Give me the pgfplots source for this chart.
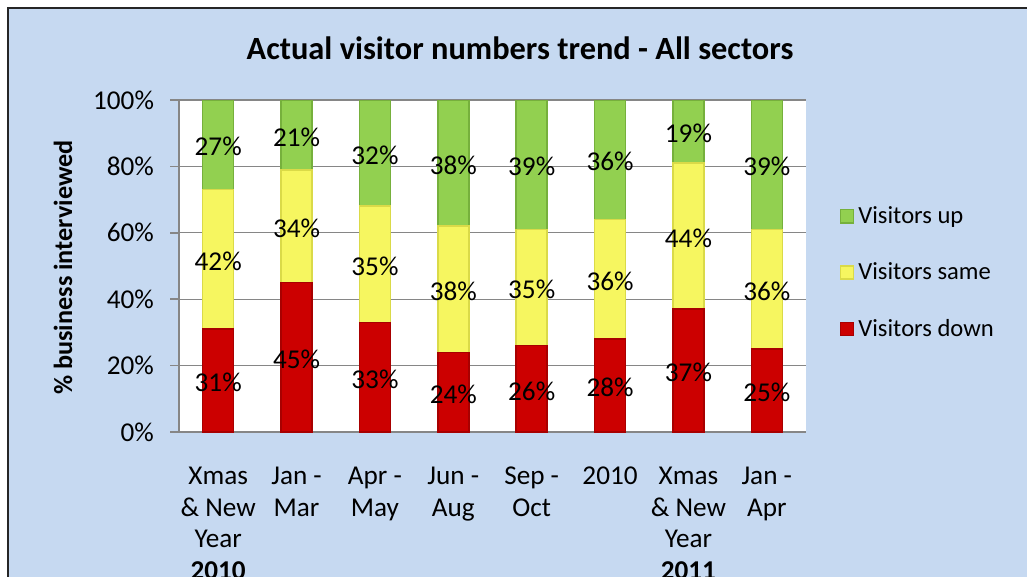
\documentclass[border=0pt]{standalone}
\usepackage{pgfplots}
\pgfplotsset{compat=1.18}
\usepackage{pgfplotstable}
\usepackage{fontspec}
\setmainfont{Carlito}
\definecolor{bgblue}{HTML}{C6D9F1}
\definecolor{gridgray}{HTML}{868686}
\definecolor{redC}{HTML}{CC0000}
\definecolor{redD}{HTML}{A80000}
\definecolor{yelC}{HTML}{F6F660}
\definecolor{yelD}{HTML}{DADA48}
\definecolor{grnC}{HTML}{92D050}
\definecolor{grnD}{HTML}{76B03C}

\pgfplotstableread{
x down same up
0 31 42 27
1 45 34 21
2 33 35 32
3 24 38 38
4 26 35 39
5 28 36 36
6 37 44 19
7 25 36 39
}\datatable

\begin{document}
\begin{tikzpicture}
\useasboundingbox (0pt,0pt) rectangle (513.5pt,-288.5pt);
\fill[bgblue] (4pt,-4pt) rectangle (530pt,-300pt);
\draw[line width=1pt, black!85] (4pt,-300pt) -- (4pt,-4pt) -- (530pt,-4pt);
\node[font=\bfseries\fontsize{16.2}{19}\selectfont] at (260pt,-24pt) {Actual visitor numbers trend - All sectors};
\node[rotate=90, font=\bfseries\fontsize{13.1}{15}\selectfont] at (31.5pt,-133.75pt) {\% business interviewed};
\begin{axis}[
  at={(89.5pt,-216pt)}, anchor=south west,
  width=313.5pt, height=166pt, scale only axis,
  ybar stacked, bar width=15.5pt,
  xmin=-0.5, xmax=7.5, ymin=0, ymax=100,
  axis background/.style={fill=white},
  axis x line*=bottom, axis y line*=left,
  axis line style={gridgray, line width=0.8pt},
  ytick={0,20,...,100},
  ymajorgrids, grid style={gridgray, line width=0.6pt},
  tick align=outside, major tick length=4.5pt,
  ytick style={gridgray, line width=0.8pt},
  /pgf/number format/assume math mode=true,
  yticklabel={\pgfmathprintnumber{\tick}\%},
  yticklabel style={font=\fontsize{13.6}{15}\selectfont, xshift=-4.5pt},
  xtick={0,...,7},
  xtick style={draw=none},
  xticklabels={{Xmas\\\& New\\Year\\\textbf{2010}},{Jan -\\Mar},{Apr -\\May},{Jun -\\Aug},{Sep -\\Oct},{2010},{Xmas\\\& New\\Year\\\textbf{2011}},{Jan -\\Apr}},
  xticklabel style={align=center, anchor=north, font=\fontsize{13.6}{15.8}\selectfont, yshift=-9.5pt},
  extra x ticks={-0.5,0.5,...,7.5},
  extra x tick labels={},
  extra x tick style={grid=none, major tick length=3pt, tick style={draw=gridgray, line width=0.8pt}},
  nodes near coords={\pgfmathprintnumber{\rawy}\%},
  every node near coord/.append style={anchor=center, font=\fontsize{13.6}{15}\selectfont, black, yshift=-1pt},
  reverse legend,
  legend style={at={(1.053,0.48)}, anchor=west, draw=none, fill=none, inner sep=0pt, row sep=14.2pt, font=\fontsize{12.3}{15}\selectfont},
  legend cell align=left,
  legend image code/.code={\path[#1] (0pt,-3.3pt) rectangle (6.6pt,3.3pt);},
  every legend entry/.append style={xshift=6pt},
]
\addplot[fill=redC, draw=redD, line width=0.8pt,
  visualization depends on={\thisrow{down} \as \rawy}] table[x=x, y=down] {\datatable};
\addplot[fill=yelC, draw=yelD, line width=0.8pt,
  visualization depends on={\thisrow{same} \as \rawy}] table[x=x, y=same] {\datatable};
\addplot[fill=grnC, draw=grnD, line width=0.8pt,
  visualization depends on={\thisrow{up} \as \rawy}] table[x=x, y=up] {\datatable};
\legend{Visitors down, Visitors same, Visitors up}
\end{axis}
\end{tikzpicture}
\end{document}
